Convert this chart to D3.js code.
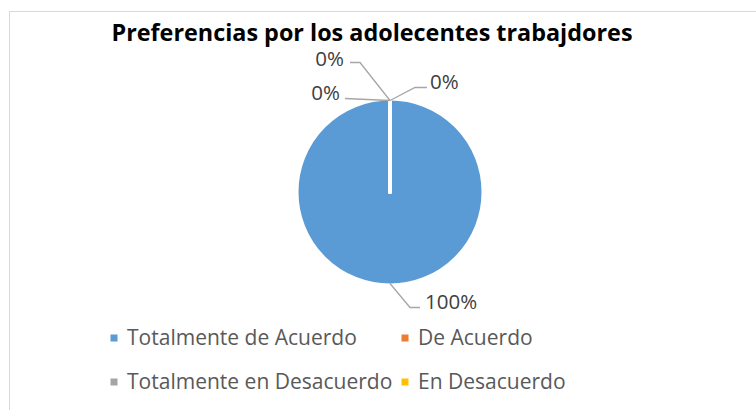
<!DOCTYPE html>
<html>
<head>
<meta charset="utf-8">
<script src="https://cdn.jsdelivr.net/npm/d3@7"></script>
<style>
  body { margin: 0; background: #fff; }
  text { font-family: "Open Sans", "Liberation Sans", Arial, sans-serif; }
</style>
</head>
<body>
<div id="chart"></div>
<script>
const title = "Preferencias por los adolecentes trabajdores";
const categories = ["Totalmente de Acuerdo", "De Acuerdo", "Totalmente en Desacuerdo", "En Desacuerdo"];
const values = [100, 0, 0, 0];
const colors = ["#5B9BD5", "#ED7D31", "#A5A5A5", "#FFC000"];

const W = 756, H = 410;
const cx = 390, cy = 192, r = 93.5;

const svg = d3.select("#chart").append("svg")
    .attr("width", W)
    .attr("height", H);

// chart frame (runs off the right/bottom edge like the source)
svg.append("rect")
    .attr("x", 9.5).attr("y", 11.5)
    .attr("width", 800).attr("height", 450)
    .attr("fill", "none")
    .attr("stroke", "#d9d9d9");

// fit a text node to a given width by adjusting font size
function fitWidth(sel, target) {
    const node = sel.node();
    const fs = parseFloat(sel.style("font-size"));
    const w = node.getComputedTextLength();
    sel.style("font-size", (fs * target / w).toFixed(2) + "px");
}

const titleText = svg.append("text")
    .attr("x", 372).attr("y", 41)
    .attr("text-anchor", "middle")
    .style("font-weight", "bold")
    .style("font-size", "21px")
    .attr("fill", "#000")
    .text(title);
fitWidth(titleText, 521);

const data = categories.map((c, i) => ({ name: c, value: values[i], color: colors[i] }));
const pie = d3.pie().sort(null).value(d => d.value);
const arcs = pie(data);
const arc = d3.arc().innerRadius(0).outerRadius(r);
const outer = d3.arc().innerRadius(r - 2).outerRadius(r - 2);

const g = svg.append("g").attr("transform", `translate(${cx},${cy})`);

g.selectAll("path.slice")
    .data(arcs)
    .join("path")
    .attr("class", "slice")
    .attr("d", arc)
    .attr("fill", d => d.data.color)
    .attr("stroke", "#fff")
    .attr("stroke-width", 4)
    .attr("stroke-linejoin", "round");

// label layout: elbow and label offsets from each slice's edge point
const labelLayout = [
    { dx: 20, dy: 24, ex: 30, tx: 35, ty: -6 },
    { dx: 25, dy: -13, ex: 37, tx: 40, ty: -6 },
    { dx: -30, dy: -38, ex: -40, tx: -46, ty: -4 },
    { dx: -45, dy: -2, ex: -45, tx: -50, ty: -6 }
];

const fmt = d => Math.round(d.value / d3.sum(values) * 100) + "%";

arcs.forEach((a, i) => {
    const p = outer.centroid(a);
    const L = labelLayout[i];
    const sx = p[0], sy = p[1];
    const e1 = [sx + L.dx, sy + L.dy];
    const e2 = [sx + L.ex, sy + L.dy];
    g.append("polyline")
        .attr("points", [[sx, sy], e1, e2].map(q => q.join(",")).join(" "))
        .attr("fill", "none")
        .attr("stroke", "#a6a6a6")
        .attr("stroke-width", 1.3);
    g.append("text")
        .attr("x", sx + L.tx)
        .attr("y", sy + L.dy + L.ty)
        .attr("dy", "0.35em")
        .attr("text-anchor", L.tx > 0 ? "start" : "end")
        .style("font-size", "20.5px")
        .attr("fill", "#404040")
        .text(fmt(a.data));
});

// legend
const legendPos = [[114, 338], [405, 338], [114, 382], [405, 382]];
const legend = svg.selectAll("g.leg")
    .data(data)
    .join("g")
    .attr("class", "leg")
    .attr("transform", (d, i) => `translate(${legendPos[i][0]},${legendPos[i][1]})`);

legend.append("rect")
    .attr("x", -3.5).attr("y", -3.5)
    .attr("width", 7).attr("height", 7)
    .attr("fill", d => d.color);

legend.append("text")
    .attr("x", 13)
    .attr("dy", "0.35em")
    .style("font-size", "19px")
    .attr("fill", "#595959")
    .text(d => d.name);

// match the source's legend text width
const first = legend.select("text").filter((d, i) => i === 0);
const fw = first.node().getComputedTextLength();
legend.selectAll("text").style("font-size", (19 * 230 / fw).toFixed(2) + "px");
</script>
</body>
</html>
